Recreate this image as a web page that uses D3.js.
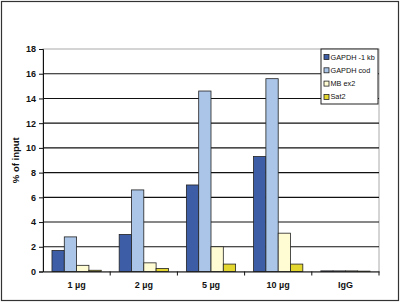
<!DOCTYPE html>
<html>
<head>
<meta charset="utf-8">
<script src="https://cdn.jsdelivr.net/npm/d3@7"></script>
<style>
  body { margin: 0; background: #fff; }
  text { font-family: Arial, "Liberation Sans", sans-serif; }
</style>
</head>
<body>
<div id="chart"></div>
<script>
// chart data
const categories = ["1 µg", "2 µg", "5 µg", "10 µg", "IgG"];
const seriesNames = ["GAPDH -1 kb", "GAPDH cod", "MB ex2", "Sat2"];
const gapdh1kb = [1.7, 3.0, 7.0, 9.3, 0.05];
const gapdhCod = [2.8, 6.6, 14.6, 15.6, 0.05];
const mbEx2 = [0.5, 0.7, 2.0, 3.1, 0.05];
const sat2 = [0.1, 0.25, 0.6, 0.6, 0.03];
const yTicks = [0, 2, 4, 6, 8, 10, 12, 14, 16, 18];

const seriesValues = [gapdh1kb, gapdhCod, mbEx2, sat2];
const colors = ["#3d5ea6", "#aac5e8", "#fffbd2", "#e3d62e"];

let width = 400, height = 302;
let margin = {left: 43, right: 21, top: 49, bottom: 30.5};

let svg = d3.select("#chart").append("svg")
  .attr("width", width).attr("height", height);

// outer frame
svg.append("rect")
  .attr("x", 1.5).attr("y", 1.5)
  .attr("width", width - 3).attr("height", height - 3)
  .attr("fill", "#fff").attr("stroke", "#333").attr("stroke-width", 1.2);

let x = d3.scaleBand()
  .domain(categories)
  .range([margin.left, width - margin.right]);

let xInner = d3.scaleBand()
  .domain(seriesNames)
  .range([0, x.bandwidth()])
  .paddingOuter(0.73);

let y = d3.scaleLinear()
  .domain([0, 18])
  .range([height - margin.bottom, margin.top]);

// plot area border (grey)
svg.append("rect")
  .attr("x", margin.left).attr("y", y(18))
  .attr("width", x.range()[1] - margin.left).attr("height", y(0) - y(18))
  .attr("fill", "none").attr("stroke", "#aaa").attr("stroke-width", 1);

// gridlines
svg.append("g").selectAll("line")
  .data(yTicks.filter(d => d > 0 && d < 18))
  .join("line")
  .attr("x1", margin.left).attr("x2", x.range()[1])
  .attr("y1", d => y(d)).attr("y2", d => y(d))
  .attr("stroke", "#111").attr("stroke-width", 1.1);

// bars
let rows = categories.map((c, i) => ({cat: c, vals: seriesNames.map((s, j) => ({s, j, v: seriesValues[j][i]}))}));
svg.append("g").selectAll("g")
  .data(rows)
  .join("g")
  .attr("transform", d => `translate(${x(d.cat)},0)`)
  .selectAll("rect")
  .data(d => d.vals)
  .join("rect")
  .attr("x", d => xInner(d.s))
  .attr("width", xInner.bandwidth())
  .attr("y", d => y(d.v))
  .attr("height", d => y(0) - y(d.v))
  .attr("fill", d => colors[d.j])
  .attr("stroke", "#222").attr("stroke-width", 0.8);

// y axis
let yAxis = svg.append("g")
  .attr("transform", `translate(${margin.left},0)`)
  .call(d3.axisLeft(y).tickValues(yTicks).tickSize(4).tickPadding(3));
yAxis.select(".domain").attr("stroke", "#111");
yAxis.selectAll(".tick line").attr("stroke", "#111");
yAxis.selectAll("text").style("font-size", "9px").style("font-weight", "bold").attr("fill", "#111");

// x axis
let xAxis = svg.append("g")
  .attr("transform", `translate(0,${y(0)})`)
  .call(d3.axisBottom(x).tickSize(0).tickPadding(10));
xAxis.select(".domain").attr("stroke", "#111");
xAxis.selectAll("text").style("font-size", "9px").style("font-weight", "bold").attr("fill", "#111");
xAxis.selectAll(".sep")
  .data(categories.slice(1).map(c => x(c)).concat([x.range()[1]]))
  .join("line")
  .attr("x1", d => d).attr("x2", d => d)
  .attr("y1", 0).attr("y2", 4)
  .attr("stroke", "#111");

// y label
svg.append("text")
  .attr("transform", `translate(19,${(y(0) + y(18)) / 2}) rotate(-90)`)
  .attr("text-anchor", "middle")
  .style("font-size", "9.5px").style("font-weight", "bold")
  .attr("fill", "#111")
  .text("% of input");

// legend
let lg = svg.append("g").attr("transform", "translate(321,49)");
lg.append("rect")
  .attr("width", 57).attr("height", 55)
  .attr("fill", "#fff").attr("stroke", "#222").attr("stroke-width", 1);
let item = lg.selectAll(".item")
  .data(seriesNames)
  .join("g")
  .attr("transform", (d, i) => `translate(3,${8 + i * 13.3})`);
item.append("rect")
  .attr("x", 0).attr("y", -2.5).attr("width", 5).attr("height", 5)
  .attr("fill", (d, i) => colors[i]).attr("stroke", "#222").attr("stroke-width", 0.8);
item.append("text")
  .attr("x", 6.5).attr("dy", "0.35em")
  .style("font-size", "7.3px")
  .attr("fill", "#111")
  .text(d => d);
</script>
</body>
</html>
